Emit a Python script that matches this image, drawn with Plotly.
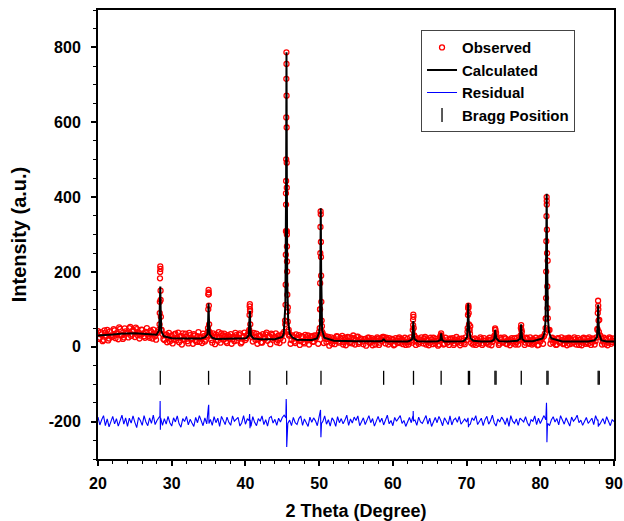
import plotly.graph_objects as go

# ---------------- data ----------------
# observed background, grid A: one value every 0.25 degree from 20.0 to 90.0
obs_a_start, obs_step = 20.0, 0.25
obs_a_y = [
    42, 24, 33, 18,  38, 45, 22, 30,  27, 44, 36, 20,  48, 31, 25, 41,
    35, 50, 29, 44,  26, 47, 38, 30,  45, 28, 40, 33,  24, 39, 46, 28,
    36, 45, 125, 34,  18, 33, 27, 14,  30, 19, 35, 24,  12, 29, 36, 20,
    26, 9, 31, 23,  34, 17, 28, 13,  25, 35, 14, 30,  140, 32, 11, 27,
    33, 16, 24, 36,  19, 29, 10, 27,  34, 21, 15, 31,  24, 36, 12, 28,
    18, 30, 42, 33,  14, 27, 35, 20,  29, 11, 24, 33,  16, 28, 35, 19,
    26, 12, 30, 22,  34, 40, 410, 105,  33, 18, 26, 10,  24, 31, 15, 27,
    9, 25, 30, 18,  28, 14, 22, 31,  40, 240, 35, 24,  12, 26, 19, 8,
    23, 15, 27, 11,  20, 6, 24, 16,  25, 13, 9, 22,  18, 27, 12, 20,
    7, 21, 16, 24,  13, 4, 20, 17,  22, 11, 15, 24,  9, 18, 23, 12,
    19, 6, 16, 22,  10, 20, 14, 5,  21, 12, 17, 58,  26, 14, 8, 19,
    15, 22, 6, 17,  11, 19, 24, 9,  16, 6, 30, 20,  8, 17, 13, 22,
    14, 5, 19, 12,  21, 10, 16, 7,  18, 105, 55, 20,  12, 5, 18, 14,
    21, 9, 16, 11,  6, 18, 13, 28,  38, 16, 9, 20,  13, 22, 7, 16,
    19, 10, 23, 12,  6, 17, 40, 18,  11, 21, 8, 15,  20, 12, 17, 5,
    14, 22, 28, 75,  230, 45, 19, 11,  16, 6, 21, 13,  18, 9, 15, 22,
    7, 17, 12, 20,  14, 5, 19, 11,  21, 13, 8, 17,  12, 20, 15, 48,
    72, 25, 14, 7,  19, 11, 22, 13,  16,
]
# observed background, grid B: one value every 0.25 degree from 20.125 to 89.875
obs_b_start = 20.125
obs_b_y = [
    21, 39, 15, 44,  29, 17, 41, 26,  47, 23, 34, 52,  30, 21, 49, 38,
    25, 53, 33, 42,  51, 31, 22, 46,  36, 24, 50, 29,  43, 22, 35, 19,
    40, 90, 45, 21,  31, 12, 37, 20,  9, 33, 17, 38,  27, 6, 21, 35,
    15, 37, 20, 8,  30, 13, 39, 24,  10, 28, 19, 40,  40, 18, 36, 7,
    26, 39, 11, 30,  35, 14, 31, 22,  8, 27, 37, 17,  32, 9, 25, 38,
    23, 36, 95, 26,  37, 18, 8, 30,  12, 34, 21, 38,  27, 7, 32, 23,
    36, 18, 10, 28,  17, 70, 300, 45,  8, 30, 14, 33,  21, 5, 28, 12,
    32, 17, 6, 26,  13, 30, 25, 8,  100, 55, 10, 28,  21, 3, 25, 16,
    7, 28, 14, 24,  29, 12, 4, 26,  10, 24, 30, 6,  26, 8, 22, 14,
    20, 3, 24, 10,  23, 15, 6, 25,  5, 20, 26, 18,  24, 6, 13, 21,
    4, 23, 10, 25,  17, 7, 24, 12,  6, 25, 11, 30,  5, 22, 13, 25,
    9, 26, 18, 4,  24, 7, 15, 21,  3, 25, 22, 6,  24, 11, 5, 20,
    23, 9, 26, 15,  4, 22, 11, 25,  40, 45, 10, 6,  22, 17, 8, 25,
    5, 23, 10, 19,  24, 4, 21, 45,  22, 5, 24, 11,  25, 8, 19, 4,
    23, 15, 6, 24,  20, 50, 22, 5,  24, 10, 25, 6,  9, 24, 4, 22,
    25, 8, 35, 390,  45, 8, 24, 20,  5, 23, 11, 25,  7, 22, 4, 24,
    20, 9, 25, 6,  23, 18, 4, 24,  8, 22, 25, 5,  22, 6, 25, 100,
    30, 6, 24, 20,  4, 25, 8, 22,
]

# observed points on the peaks
obs_pk_x = [28.35, 28.39, 28.41, 28.43, 28.45, 28.47, 28.49, 28.53, 28.57,
            34.92, 34.96, 34.98, 35.00, 35.02, 35.04, 35.08, 35.12,
            40.52, 40.56, 40.58, 40.60, 40.62, 40.66, 40.70,
            45.40, 45.44, 45.46, 45.48, 45.50, 45.51, 45.52, 45.53, 45.54, 45.55,
            45.56, 45.57, 45.58, 45.59, 45.60, 45.61, 45.62, 45.63, 45.64, 45.66,
            45.68, 45.70, 45.74, 45.80, 45.90,
            50.08, 50.12, 50.14, 50.16, 50.18, 50.20, 50.22, 50.24, 50.27, 50.30,
            50.34, 50.40,
            58.70, 58.75,
            62.70, 62.74, 62.77, 62.79, 62.83, 62.88,
            66.50, 66.55, 66.60,
            70.15, 70.19, 70.22, 70.25, 70.29, 70.33, 70.40, 70.46,
            73.82, 73.87, 73.91, 73.96,
            77.34, 77.38, 77.41, 77.45, 77.51,
            80.72, 80.76, 80.78, 80.80, 80.82, 80.84, 80.86, 80.88, 80.90, 80.92,
            80.95, 80.98, 81.02, 81.10,
            87.76, 87.80, 87.84, 87.86, 87.90, 87.95]
obs_pk_y = [60, 120, 183, 200, 215, 208, 150, 80, 45,
            50, 100, 140, 152, 145, 110, 60, 38,
            45, 85, 108, 114, 100, 60, 38,
            60, 112, 166, 246, 309, 380, 443, 501, 613, 716,
            787, 756, 671, 586, 492, 425, 309, 268, 228, 201,
            139, 94, 67, 40, 30,
            50, 100, 170, 250, 320, 362, 354, 280, 190, 120,
            70, 40,
            24, 26,
            45, 72, 86, 80, 50, 30,
            30, 36, 28,
            50, 85, 103, 110, 90, 60, 45, 35,
            30, 49, 45, 35,
            30, 50, 58, 45, 28,
            50, 76, 130, 201, 282, 349, 400, 380, 313, 250,
            161, 103, 76, 45,
            45, 90, 123, 110, 70, 40]

# calculated profile
calc_x = [20, 21, 22, 23, 24, 25, 26, 27,
          27.95, 28.3, 28.4, 28.45, 28.5, 28.6, 28.95,
          30, 32, 34,
          34.5, 34.85, 34.95, 35.0, 35.05, 35.15, 35.5,
          36, 38, 40,
          40.1, 40.45, 40.55, 40.6, 40.65, 40.75, 41.1,
          42, 44,
          45.0, 45.2, 45.42, 45.52, 45.57, 45.62, 45.67, 45.72, 45.8, 46.0, 46.4,
          47, 49,
          49.7, 50.0, 50.12, 50.17, 50.22, 50.27, 50.32, 50.4, 50.7,
          52, 55, 58,
          58.5, 58.7, 58.75, 58.8, 59.0,
          60, 62,
          62.3, 62.62, 62.72, 62.77, 62.82, 62.92, 63.3,
          65,
          66.1, 66.45, 66.5, 66.55, 66.6, 66.7, 67.0,
          68, 69.5,
          69.75, 70.07, 70.17, 70.22, 70.27, 70.34, 70.42, 70.55, 70.9,
          72,
          73.4, 73.73, 73.83, 73.88, 73.93, 74.05, 74.4,
          75.5,
          76.9, 77.25, 77.35, 77.4, 77.45, 77.55, 77.9,
          79,
          80.3, 80.55, 80.72, 80.82, 80.87, 80.92, 80.98, 81.05, 81.2, 81.5,
          83, 85, 86.5,
          87.35, 87.7, 87.8, 87.85, 87.9, 87.98, 88.3,
          89, 90]
calc_y = [30, 31, 33, 35, 36, 36, 35, 33,
          32, 44, 100, 161, 100, 40, 28,
          23, 22, 22,
          25, 33, 74, 116, 74, 33, 24,
          21, 21, 21,
          23, 30, 62, 96, 62, 30, 22,
          20, 20,
          26, 35, 112, 440, 787, 440, 175, 130, 70, 35, 24,
          19, 18,
          22, 38, 60, 210, 370, 210, 80, 45, 24,
          16, 15, 14,
          15, 19, 21, 19, 15,
          14, 14,
          16, 21, 44, 69, 44, 21, 15,
          14,
          15, 18, 26, 36, 26, 18, 14,
          14, 15,
          17, 26, 70, 116, 75, 48, 35, 22, 16,
          14,
          15, 19, 32, 45, 34, 22, 15,
          14,
          16, 21, 40, 60, 40, 21, 15,
          15,
          22, 35, 70, 230, 409, 240, 110, 70, 38, 22,
          14, 14, 14,
          17, 26, 68, 113, 70, 35, 17,
          14, 14]

# residual (drawn offset to -200), one value every 0.25 degree, plus peak spikes
res_bg_y = [
    -188, -209, -195, -184,  -211, -193, -214, -199,  -186, -206, -192, -212,
    -196, -183, -207, -190,  -213, -191, -204, -185,  -202, -216, -189, -197,
    -210, -184, -201, -211,  -190, -205, -183, -208,  -197, -188, -195, -210,
    -192, -207, -186, -203,  -212, -190, -201, -185,  -206, -215, -192, -200,
    -186, -209, -194, -204,  -213, -189, -203, -184,  -199, -211, -190, -206,
    -190, -194, -210, -187,  -203, -191, -213, -186,  -197, -208, -188, -202,
    -210, -185, -199, -193,  -189, -212, -203, -184,  -207, -193, -197, -213,
    -187, -202, -211, -192,  -199, -185, -208, -195,  -212, -190, -186, -204,
    -194, -210, -191, -201,  -189, -183, -190, -205,  -196, -211, -189, -203,
    -208, -192, -185, -210,  -193, -203, -213, -188,  -202, -190, -198, -211,
    -186, -215, -200, -185,  -207, -195, -212, -190,  -198, -213, -187, -203,
    -192, -206, -196, -183,  -210, -193, -204, -188,  -197, -185, -211, -201,
    -190, -208, -195, -184,  -203, -192, -212, -199,  -186, -202, -191, -209,
    -195, -183, -206, -197,  -211, -189, -199, -192,  -184, -205, -197, -213,
    -199, -189, -203, -188,  -196, -210, -188, -201,  -205, -193, -184, -207,
    -191, -213, -198, -189,  -203, -186, -197, -211,  -190, -201, -208, -185,
    -209, -195, -191, -202,  -186, -207, -199, -193,  -201, -212, -207, -190,
    -197, -184, -208, -199,  -191, -211, -195, -186,  -207, -198, -183, -203,
    -212, -193, -201, -188,  -196, -208, -190, -213,  -184, -199, -205, -193,
    -210, -191, -197, -201,  -187, -203, -212, -195,  -199, -185, -208, -191,
    -205, -196, -184, -195,  -205, -211, -196, -187,  -201, -192, -209, -184,
    -196, -207, -190, -200,  -212, -188, -199, -193,  -183, -203, -196, -210,
    -197, -189, -205, -199,  -191, -208, -184, -197,  -210, -201, -192, -207,
    -187, -199, -211, -195,  -200,
]
res_pk_x = [28.40, 28.43, 28.46, 28.50,
            34.98, 35.02, 35.05,
            40.57, 40.62, 40.65,
            45.50, 45.53, 45.56, 45.60, 45.63, 45.66,
            50.15, 50.19, 50.24, 50.28, 50.32,
            62.72, 62.76, 62.80,
            70.20, 70.25, 70.30,
            80.80, 80.84, 80.87, 80.90, 80.93, 80.97,
            87.83, 87.87, 87.90]
res_pk_y = [-185, -145, -222, -190,
            -160, -155, -205,
            -180, -218, -195,
            -170, -140, -160, -268, -235, -215,
            -180, -169, -242, -225, -205,
            -185, -172, -198,
            -190, -215, -210,
            -180, -150, -175, -255, -230, -210,
            -195, -214, -206]

# Bragg reflection positions and the level at which they are drawn
bragg_x = [28.45, 35.0, 40.6, 45.6, 50.25, 58.75, 62.8, 66.55,
           70.25, 70.4, 73.85, 74.0, 77.42, 80.9, 81.05, 87.85, 88.0]
bragg_level = -83

# axis tick labels
y_tick_vals = [-200, 0, 200, 400, 600, 800]
y_tick_text = ["-200", "0", "200", "400", "600", "800"]

# ---------------- assemble ----------------
grid_a_x = [obs_a_start + i * obs_step for i in range(len(obs_a_y))]
grid_b_x = [obs_b_start + i * obs_step for i in range(len(obs_b_y))]
obs_x = grid_a_x + grid_b_x + obs_pk_x
obs_y = obs_a_y + obs_b_y + obs_pk_y

res_pairs = sorted(zip(grid_a_x + res_pk_x, res_bg_y + res_pk_y), key=lambda p: p[0])
res_x = [p[0] for p in res_pairs]
res_y = [p[1] for p in res_pairs]

FONT = "Liberation Sans, Arial, sans-serif"

fig = go.Figure()
fig.add_trace(go.Scatter(
    x=obs_x, y=obs_y, mode="markers", name="Observed",
    marker=dict(symbol="circle-open", size=5, color="#ff0000",
                line=dict(width=1.3, color="#ff0000")),
))
fig.add_trace(go.Scatter(
    x=calc_x, y=calc_y, mode="lines", name="Calculated",
    line=dict(color="black", width=2),
))
fig.add_trace(go.Scatter(
    x=res_x, y=res_y, mode="lines", name="Residual",
    line=dict(color="#0000ff", width=1.1),
))
fig.add_trace(go.Scatter(
    x=bragg_x, y=[bragg_level] * len(bragg_x), mode="markers", name="Bragg Position",
    marker=dict(symbol="line-ns-open", size=10, color="black",
                line=dict(width=1.3, color="black")),
))

axis_common = dict(
    showline=True, linecolor="black", linewidth=2, mirror=True,
    ticks="outside", ticklen=5, tickwidth=1.5, tickcolor="black",
    showgrid=False, zeroline=False,
    tickfont=dict(family=FONT, size=16, color="black", weight="bold"),
)

fig.update_layout(
    width=624, height=521,
    margin=dict(l=98, r=10, t=10, b=62),
    paper_bgcolor="white", plot_bgcolor="white",
    showlegend=True,
    legend=dict(
        x=0.626, y=0.955, xanchor="left", yanchor="top",
        bgcolor="white", bordercolor="#444444", borderwidth=1,
        font=dict(family=FONT, size=15, color="black", weight="bold"),
        itemwidth=30,
    ),
    xaxis=dict(
        range=[20, 90], dtick=10, tick0=20,
        minor=dict(dtick=2, ticks="outside", ticklen=3, tickcolor="black", tickwidth=1.2),
        ticklabelstandoff=4,
        title=dict(text="2 Theta (Degree)", standoff=20,
                   font=dict(family=FONT, size=18, color="black", weight="bold")),
        automargin=False,
        **axis_common,
    ),
    yaxis=dict(
        range=[-300, 900], tickvals=y_tick_vals, ticktext=y_tick_text,
        minor=dict(dtick=50, tick0=0, ticks="outside", ticklen=3, tickcolor="black",
                   tickwidth=1.2),
        ticklabelstandoff=7,
        title=dict(text="Intensity (a.u.)", standoff=17,
                   font=dict(family=FONT, size=20, color="black", weight="bold")),
        automargin=False,
        **axis_common,
    ),
)

fig.write_html("out.html", config={"displayModeBar": False},
               post_script="document.body.style.margin='0';")
